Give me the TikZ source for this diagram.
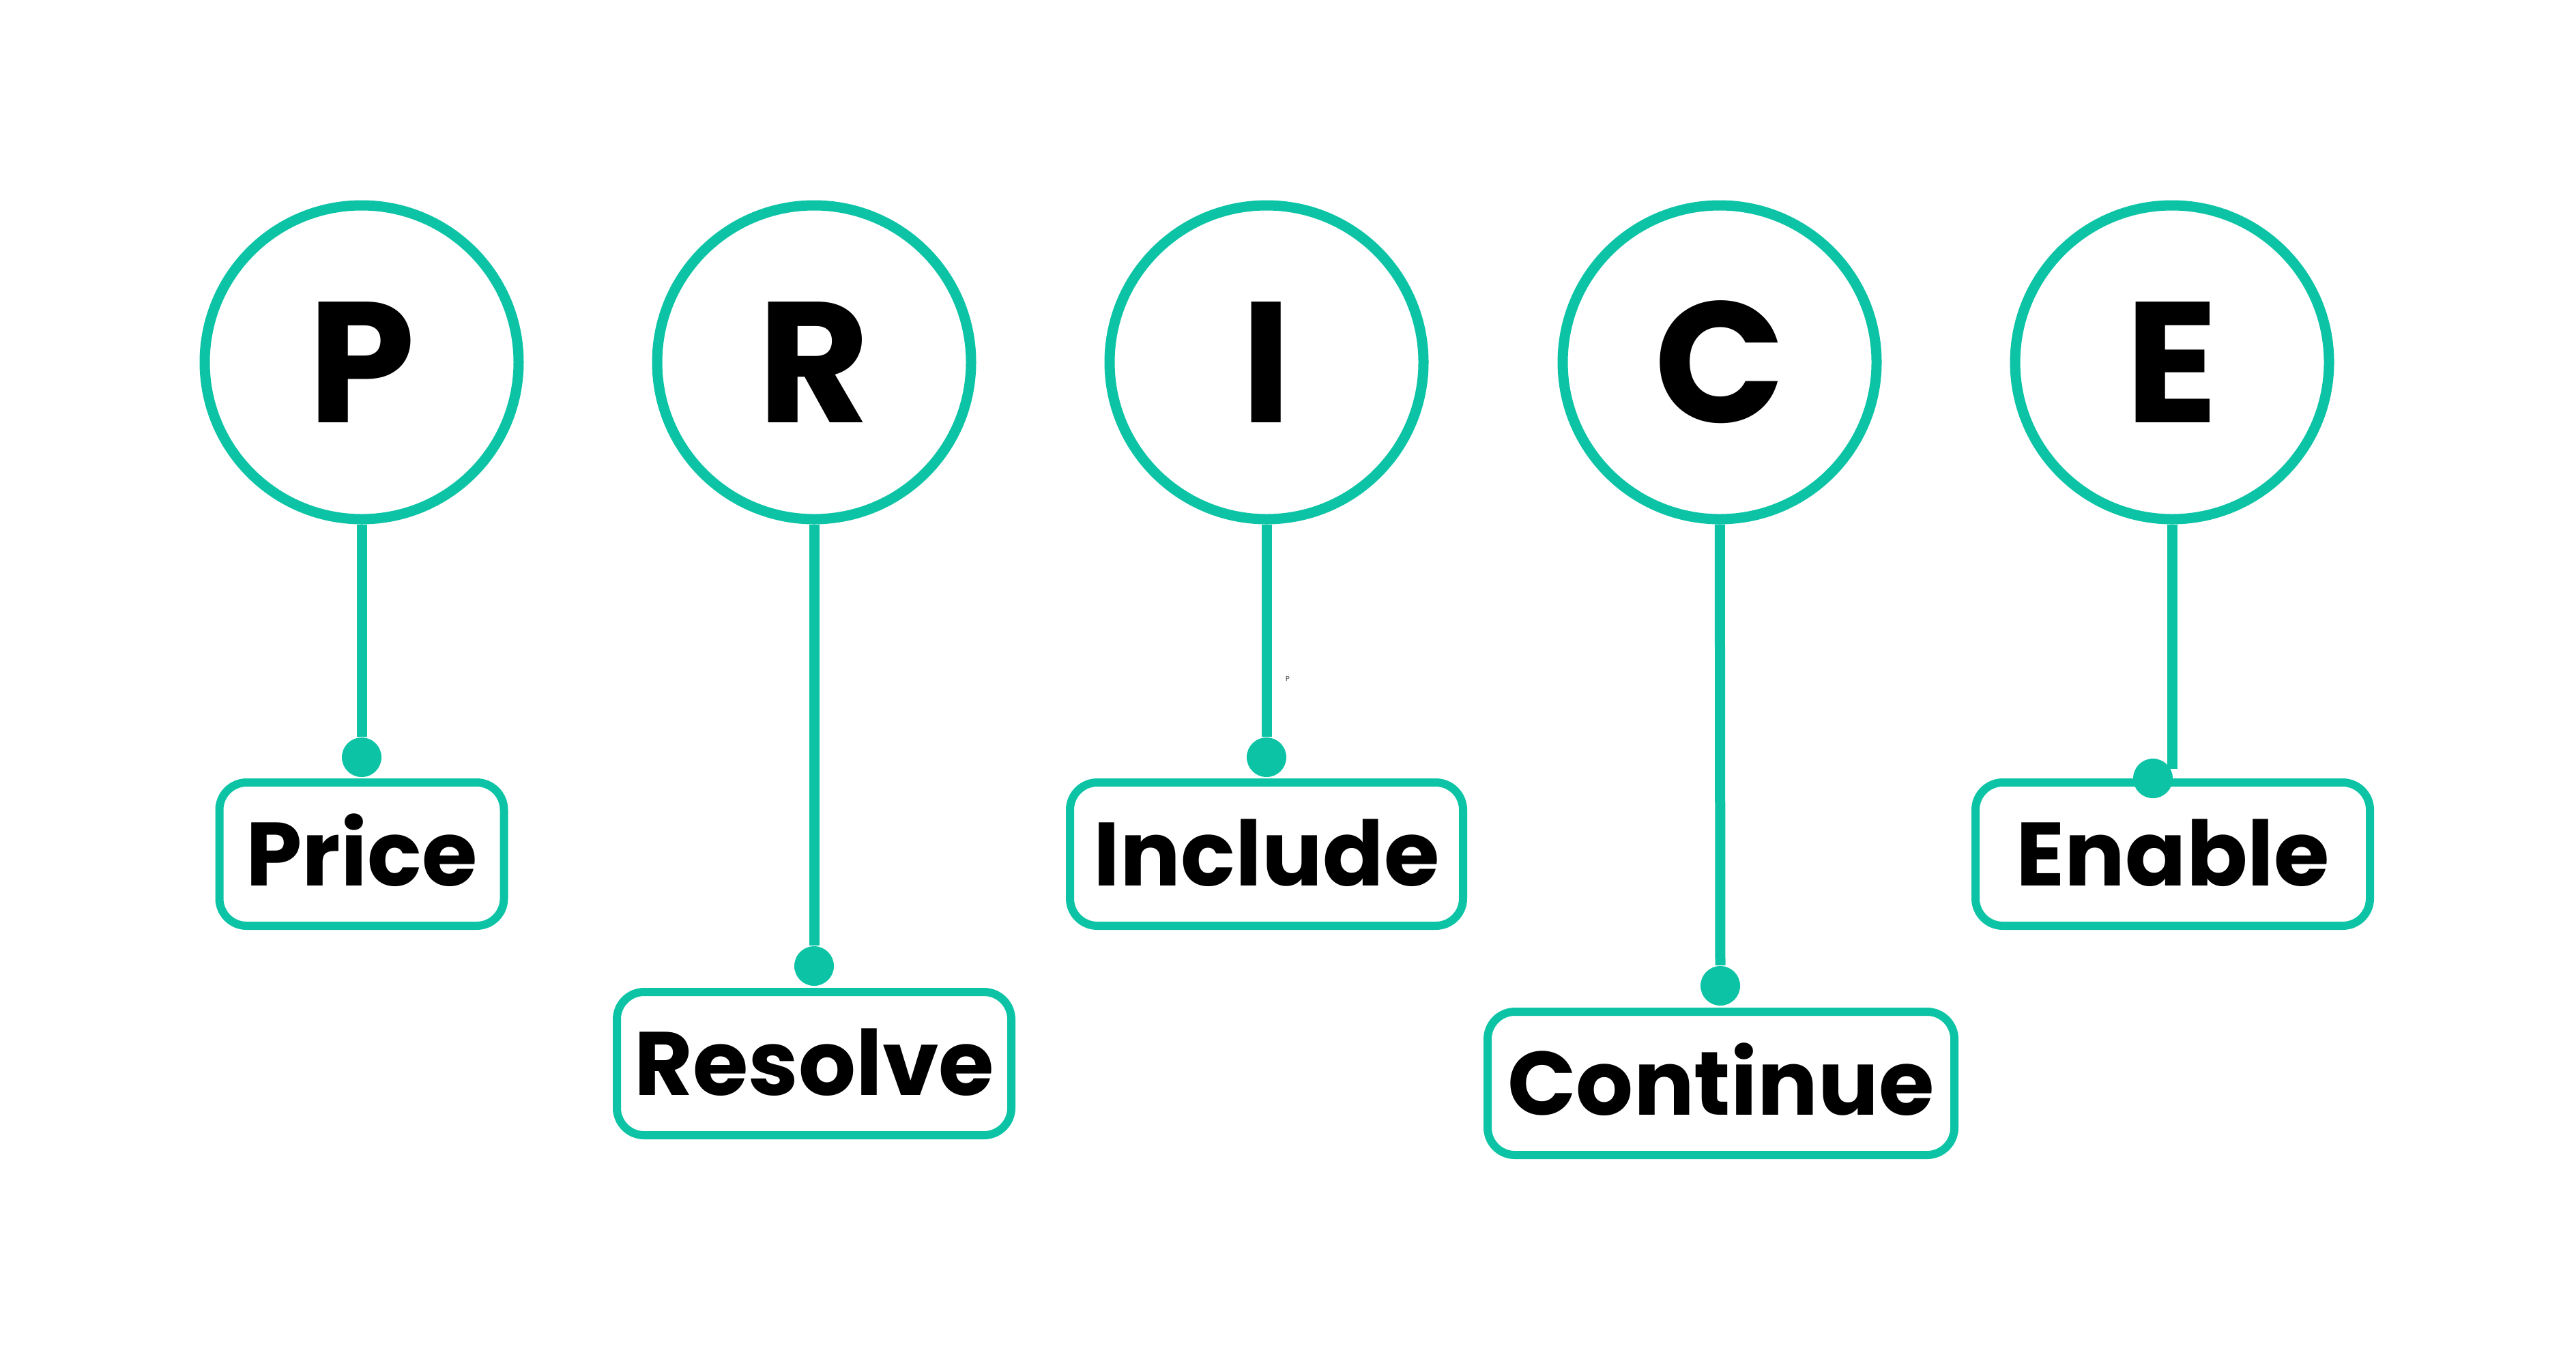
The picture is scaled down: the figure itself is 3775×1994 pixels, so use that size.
\documentclass[tikz,border=0pt]{standalone}
\usepackage{fontspec}
\setmainfont{Poppins}
\definecolor{tealA}{RGB}{12,196,165}
\begin{document}
\begin{tikzpicture}[x=0.25pt,y=-0.25pt,
  letter/.style={circle, draw=tealA, line width=3.75pt, minimum size=115pt, inner sep=0pt,
    text height=44pt, text depth=0pt, font=\fontsize{63}{63}\selectfont\bfseries},
  word/.style={draw=tealA, line width=3pt, rounded corners=10pt, minimum height=52.5pt,
    inner sep=0pt, text height=23pt, text depth=0pt, font=\fontsize{33}{33}\selectfont\bfseries},
  link/.style={draw=tealA, line width=3.75pt},
  dot/.style={circle, fill=tealA, minimum size=14.5pt, inner sep=0pt}]
\fill[white] (0,0) rectangle (3775,1994);
\useasboundingbox (0,0) rectangle (3775,1994);

\node[letter] (cP) at (530,531) {P};
\node[letter] (cR) at (1193,531) {R};
\node[letter] (cI) at (1856,531) {I};
\node[letter] (cC) at (2520,531) {C};
\node[letter] (cE) at (3183,531) {E};

\node[word, minimum width=104.25pt] (wP) at (530,1252) {Price};
\node[word, minimum width=144.5pt] (wR) at (1193,1559) {Resolve};
\node[word, minimum width=144pt] (wI) at (1856,1252) {Include};
\node[word, minimum width=171pt] (wC) at (2522,1588) {Continue};
\node[word, minimum width=144.5pt] (wE) at (3184,1252) {Enable};

\node[dot] (dP) at (530,1110) {};
\node[dot] (dR) at (1193,1416) {};
\node[dot] (dI) at (1856,1110) {};
\node[dot] (dC) at (2521,1445) {};
\node[dot] (dE) at (3155,1141) {};
\coordinate (eEnd) at (3183,1127);

\draw[link] (cP) -- (dP);
\draw[link] (cR) -- (dR);
\draw[link] (cI) -- (dI);
\draw[link] (cC) -- (dC);
\draw[link] (cE) -- (eEnd);

\node[font=\fontsize{2.5}{2.5}\selectfont, text=black!75, inner sep=0pt] (tinyP) at (1887,995) {P};
\end{tikzpicture}
\end{document}
